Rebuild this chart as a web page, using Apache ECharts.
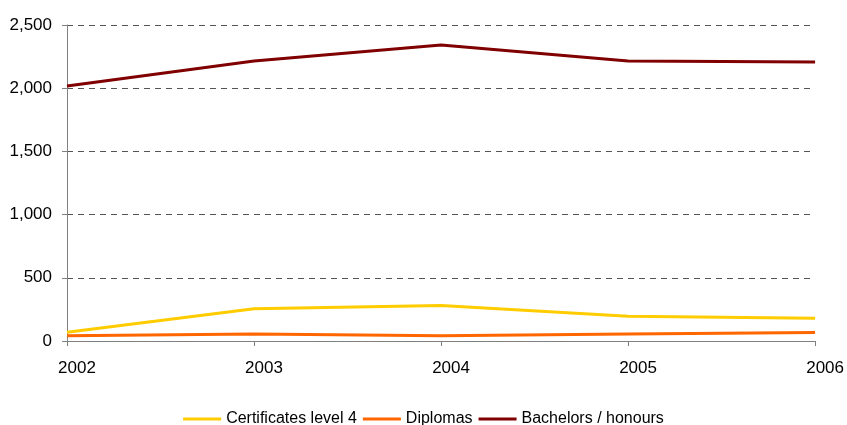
<!DOCTYPE html>
<html>
<head>
<meta charset="utf-8">
<script src="https://cdn.jsdelivr.net/npm/echarts@6/dist/echarts.min.js"></script>
<style>
  html, body { margin: 0; padding: 0; background: #fff; }
  #chart { width: 847px; height: 425px; }
</style>
</head>
<body>
<div id="chart"></div>
<script>
// Qualification completions by year
const years = ['2002', '2003', '2004', '2005', '2006'];
const certificatesLevel4 = [70, 255, 280, 195, 180];
const diplomas = [42, 55, 42, 55, 68];
const bachelorsHonours = [2018, 2215, 2342, 2215, 2207];
const yTicks = { min: 0, max: 2500, step: 500 };

const font = '"Liberation Sans", Arial, sans-serif';

const chart = echarts.init(document.getElementById('chart'), null, { renderer: 'canvas' });

function lineSeries(name, data, color) {
  return {
    name: name,
    type: 'line',
    data: data,
    symbol: 'none',
    lineStyle: { color: color, width: 3 },
    itemStyle: { color: color },
    animation: false
  };
}

chart.setOption({
  backgroundColor: '#ffffff',
  animation: false,
  grid: { left: 67, right: 30, top: 25, bottom: 84 },
  legend: {
    bottom: -7,
    left: 'center',
    icon: 'rect',
    itemWidth: 38,
    itemHeight: 3,
    itemGap: 6,
    textStyle: { fontFamily: font, fontSize: 16, color: '#000' },
    data: ['Certificates level 4', 'Diplomas', 'Bachelors / honours']
  },
  xAxis: {
    type: 'category',
    data: years,
    boundaryGap: false,
    axisLine: { lineStyle: { color: '#808080', width: 1 } },
    axisTick: { show: true, length: 5, lineStyle: { color: '#808080' } },
    axisLabel: {
      fontFamily: font, fontSize: 17, color: '#000',
      margin: 19, padding: [0, 0, 0, 20]
    },
    splitLine: { show: false }
  },
  yAxis: {
    type: 'value',
    min: yTicks.min,
    max: yTicks.max,
    interval: yTicks.step,
    axisLine: { show: true, lineStyle: { color: '#808080', width: 1 } },
    axisTick: { show: true, length: 5, lineStyle: { color: '#808080' } },
    axisLabel: {
      fontFamily: font, fontSize: 17, color: '#000', margin: 15,
      formatter: v => v.toLocaleString('en-US')
    },
    splitLine: { show: true, lineStyle: { color: '#555', type: [6, 5], width: 1 } }
  },
  series: [
    lineSeries('Certificates level 4', certificatesLevel4, '#FFCC00'),
    lineSeries('Diplomas', diplomas, '#FF6600'),
    lineSeries('Bachelors / honours', bachelorsHonours, '#800000')
  ]
});
</script>
</body>
</html>
